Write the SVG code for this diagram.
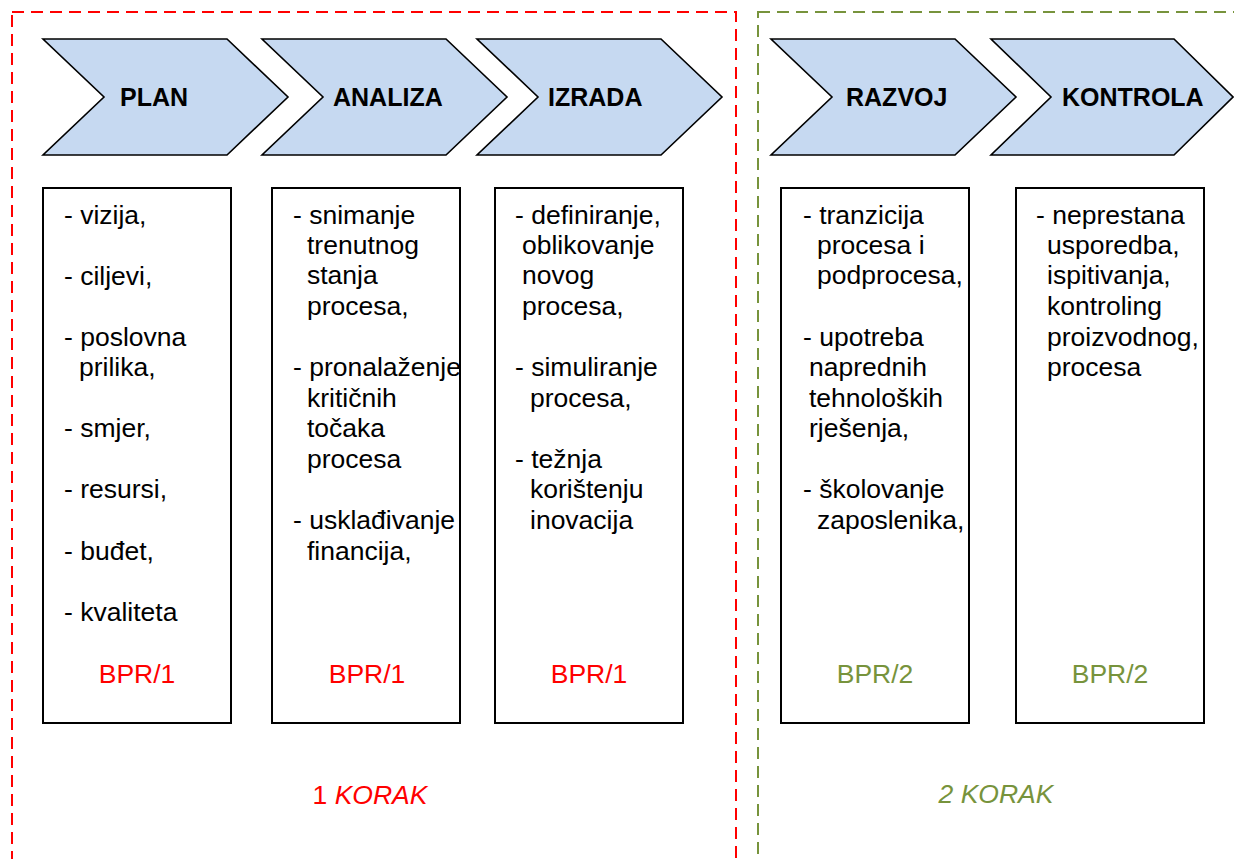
<svg xmlns="http://www.w3.org/2000/svg" width="1234" height="859" viewBox="0 0 1234 859">
<style>
.chev{fill:#C6D9F1;stroke:#000;stroke-width:1.6;stroke-linejoin:miter}
.box{fill:#fff;stroke:#000;stroke-width:2}
.title{font-family:"Liberation Sans",Arial,sans-serif;font-weight:bold;font-size:25px;fill:#000}
.t{font-family:"Liberation Sans",Arial,sans-serif;font-size:26.5px;fill:#000}
.red{font-family:"Liberation Sans",Arial,sans-serif;font-size:26.5px;fill:#FF0000;text-anchor:middle}
.grn{font-family:"Liberation Sans",Arial,sans-serif;font-size:26.5px;fill:#77933C;text-anchor:middle}
.it{font-style:italic}
.dred{fill:none;stroke:#FF0000;stroke-width:2;stroke-dasharray:12 7}
.dgrn{fill:none;stroke:#77933C;stroke-width:2;stroke-dasharray:12 7}
</style>
<rect width="1234" height="859" fill="#fff"/>
<g id="step1-frame">
<rect class="dred" x="12" y="12" width="724" height="870"/>
<text class="red" x="370" y="804">1 <tspan class="it">KORAK</tspan></text>
</g>
<g id="step2-frame">
<rect class="dgrn" x="758" y="12" width="520" height="870"/>
<text class="grn it" x="996" y="803">2 KORAK</text>
</g>
<g id="plan">
<polygon class="chev" points="43,39 227,39 288,97 227,155 43,155 104,97"/>
<text class="title" x="120" y="106">PLAN</text>
</g>
<g id="analiza">
<polygon class="chev" points="262,39 446,39 507,97 446,155 262,155 323,97"/>
<text class="title" x="333" y="106">ANALIZA</text>
</g>
<g id="izrada">
<polygon class="chev" points="477,39 661,39 722,97 661,155 477,155 538,97"/>
<text class="title" x="548" y="106">IZRADA</text>
</g>
<g id="razvoj">
<polygon class="chev" points="771,39 955,39 1016,97 955,155 771,155 832,97"/>
<text class="title" x="846" y="106">RAZVOJ</text>
</g>
<g id="kontrola">
<polygon class="chev" points="991,39 1174,39 1233,97 1174,155 991,155 1051,97"/>
<text class="title" x="1062" y="106">KONTROLA</text>
</g>
<g id="plan-box">
<rect class="box" x="43" y="188" width="188" height="535"/>
<text class="t" x="64" y="224">- vizija,</text>
<text class="t" x="64" y="285">- ciljevi,</text>
<text class="t" x="64" y="346">- poslovna</text>
<text class="t" x="79" y="376">prilika,</text>
<text class="t" x="64" y="437">- smjer,</text>
<text class="t" x="64" y="498">- resursi,</text>
<text class="t" x="64" y="560">- buđet,</text>
<text class="t" x="64" y="621">- kvaliteta</text>
<text class="red" x="137" y="683">BPR/1</text>
</g>
<g id="analiza-box">
<rect class="box" x="272" y="188" width="188" height="535"/>
<text class="t" x="293" y="224">- snimanje</text>
<text class="t" x="307" y="254">trenutnog</text>
<text class="t" x="307" y="284">stanja</text>
<text class="t" x="307" y="315">procesa,</text>
<text class="t" x="293" y="376">- pronalaženje</text>
<text class="t" x="307" y="407">kritičnih</text>
<text class="t" x="307" y="437">točaka</text>
<text class="t" x="307" y="468">procesa</text>
<text class="t" x="293" y="529">- usklađivanje</text>
<text class="t" x="307" y="560">financija,</text>
<text class="red" x="367" y="683">BPR/1</text>
</g>
<g id="izrada-box">
<rect class="box" x="495" y="188" width="188" height="535"/>
<text class="t" x="515" y="224">- definiranje,</text>
<text class="t" x="522" y="254">oblikovanje</text>
<text class="t" x="522" y="284">novog</text>
<text class="t" x="522" y="315">procesa,</text>
<text class="t" x="515" y="376">- simuliranje</text>
<text class="t" x="530" y="407">procesa,</text>
<text class="t" x="515" y="468">- težnja</text>
<text class="t" x="530" y="498">korištenju</text>
<text class="t" x="530" y="529">inovacija</text>
<text class="red" x="589" y="683">BPR/1</text>
</g>
<g id="razvoj-box">
<rect class="box" x="781" y="188" width="188" height="535"/>
<text class="t" x="803" y="224">- tranzicija</text>
<text class="t" x="817" y="254">procesa i</text>
<text class="t" x="817" y="284">podprocesa,</text>
<text class="t" x="803" y="346">- upotreba</text>
<text class="t" x="809" y="376">naprednih</text>
<text class="t" x="809" y="407">tehnoloških</text>
<text class="t" x="809" y="437">rješenja,</text>
<text class="t" x="803" y="498">- školovanje</text>
<text class="t" x="817" y="529">zaposlenika,</text>
<text class="grn" x="875" y="683">BPR/2</text>
</g>
<g id="kontrola-box">
<rect class="box" x="1016" y="188" width="188" height="535"/>
<text class="t" x="1036" y="224">- neprestana</text>
<text class="t" x="1047" y="254">usporedba,</text>
<text class="t" x="1047" y="284">ispitivanja,</text>
<text class="t" x="1047" y="315">kontroling</text>
<text class="t" x="1047" y="346">proizvodnog,</text>
<text class="t" x="1047" y="376">procesa</text>
<text class="grn" x="1110" y="683">BPR/2</text>
</g>
<g id="connectors"></g>
</svg>
